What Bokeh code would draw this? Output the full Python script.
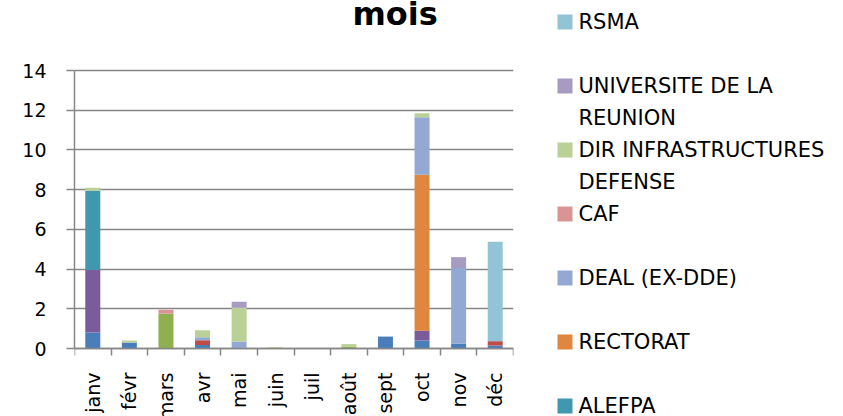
import numpy as np
from bokeh.plotting import figure
from bokeh.layouts import row
from bokeh.models import (ColumnDataSource, Range1d, FixedTicker, Label)
from bokeh.core.properties import value
from bokeh.embed import file_html
from bokeh.resources import INLINE

months = ["janv", "févr", "mars", "avr", "mai", "juin", "juil", "août", "sept", "oct", "nov", "déc"]

# series, stacked from bottom to top
serie_bleue    = [0.8, 0.3, 0.0, 0.17, 0.0, 0.0, 0.0, 0.0, 0.6, 0.4, 0.25, 0.15]
serie_rouge    = [0.0, 0.0, 0.0, 0.25, 0.0, 0.0, 0.0, 0.0, 0.0, 0.0, 0.0, 0.22]
serie_verte    = [0.0, 0.0, 1.75, 0.0, 0.0, 0.0, 0.0, 0.1, 0.0, 0.0, 0.0, 0.0]
serie_violette = [3.15, 0.0, 0.0, 0.0, 0.0, 0.0, 0.0, 0.0, 0.0, 0.5, 0.0, 0.0]
alefpa         = [4.0, 0.0, 0.0, 0.0, 0.0, 0.0, 0.0, 0.0, 0.0, 0.0, 0.0, 0.0]
rectorat       = [0.0, 0.0, 0.0, 0.0, 0.0, 0.0, 0.0, 0.0, 0.0, 7.85, 0.0, 0.0]
deal           = [0.0, 0.0, 0.0, 0.15, 0.35, 0.0, 0.0, 0.0, 0.0, 2.9, 3.8, 0.0]
caf            = [0.0, 0.0, 0.2, 0.0, 0.0, 0.0, 0.0, 0.0, 0.0, 0.0, 0.0, 0.0]
dir_infra      = [0.15, 0.1, 0.0, 0.35, 1.7, 0.07, 0.0, 0.12, 0.0, 0.2, 0.0, 0.0]
universite     = [0.0, 0.0, 0.0, 0.0, 0.3, 0.0, 0.0, 0.0, 0.0, 0.0, 0.55, 0.0]
rsma           = [0.0, 0.0, 0.0, 0.0, 0.0, 0.0, 0.0, 0.0, 0.0, 0.0, 0.0, 5.0]

series_keys = ["s_bleue", "s_rouge", "s_verte", "s_violette", "ALEFPA", "RECTORAT",
               "DEAL (EX-DDE)", "CAF", "DIR INFRASTRUCTURES DEFENSE", "UNIVERSITE DE LA REUNION", "RSMA"]
series_vals = [serie_bleue, serie_rouge, serie_verte, serie_violette, alefpa, rectorat,
               deal, caf, dir_infra, universite, rsma]
series_colors = ["#4a7ebb", "#be4b48", "#8fb04f", "#7a5c9a", "#4097ae", "#e0863e",
                 "#93a9d4", "#d99593", "#b9d097", "#a89bc2", "#93c4d5"]

legend_order = ["RSMA", "UNIVERSITE DE LA REUNION", "DIR INFRASTRUCTURES DEFENSE", "CAF",
                "DEAL (EX-DDE)", "RECTORAT", "ALEFPA"]
legend_lines = {"UNIVERSITE DE LA REUNION": ["UNIVERSITE DE LA", "REUNION"],
                "DIR INFRASTRUCTURES DEFENSE": ["DIR INFRASTRUCTURES", "DEFENSE"]}

y_ticks = [0, 2, 4, 6, 8, 10, 12, 14]
title_text = "mois"

FONT = "DejaVu Sans"
GRAY = "#868686"

# layout (pixels inside the canvases)
H = 416
W_MAIN, W_LEG = 538, 305
PLOT_TOP, PLOT_BOTTOM = 70, 348          # pixel rows of y=14 and y=0
LEFT, RIGHT_BORDER = 74, 25
scale = (PLOT_BOTTOM - PLOT_TOP) / max(y_ticks)
y_start = -(H - PLOT_BOTTOM) / scale
y_end = max(y_ticks) + PLOT_TOP / scale

data = {"x": list(np.arange(len(months)) + 0.5), "month": months}
for k, v in zip(series_keys, series_vals):
    data[k] = v
data["label_y"] = [-24 / scale] * len(months)
source = ColumnDataSource(data)

p = figure(width=W_MAIN, height=H, output_backend="svg", toolbar_location=None,
           x_range=Range1d(0, len(months)), y_range=Range1d(y_start, y_end),
           min_border_left=LEFT, min_border_top=0, min_border_bottom=0,
           min_border_right=RIGHT_BORDER)
p.outline_line_color = None
p.background_fill_color = "white"
p.border_fill_color = "white"

p.vbar_stack(series_keys, x="x", width=0.41, color=series_colors,
             line_color=None, source=source)

# y axis
p.yaxis.bounds = (0, max(y_ticks))
p.yaxis.ticker = FixedTicker(ticks=y_ticks)
p.yaxis.axis_line_color = GRAY
p.yaxis.axis_line_width = 1.5
p.yaxis.major_tick_line_color = GRAY
p.yaxis.major_tick_line_width = 1.5
p.yaxis.major_tick_out = 8
p.yaxis.major_tick_in = 0
p.yaxis.minor_tick_line_color = None
p.yaxis.major_label_text_font = FONT
p.yaxis.major_label_text_font_size = "19px"
p.yaxis.major_label_text_color = "black"
p.yaxis.major_label_standoff = 20

# x axis at y = 0, ticks between the categories
p.xaxis.fixed_location = 0
p.xaxis.ticker = FixedTicker(ticks=[], minor_ticks=list(range(len(months) + 1)))
p.xaxis.axis_line_color = GRAY
p.xaxis.axis_line_width = 1.5
p.xaxis.major_tick_line_color = None
p.xaxis.major_tick_out = 0
p.xaxis.minor_tick_line_color = GRAY
p.xaxis.minor_tick_line_width = 1.5
p.xaxis.minor_tick_out = 7
p.xaxis.minor_tick_in = 0
p.xaxis.major_label_text_font_size = "0px"

p.xgrid.grid_line_color = None
p.ygrid.ticker = FixedTicker(ticks=y_ticks)
p.ygrid.grid_line_color = GRAY
p.ygrid.grid_line_width = 1.5

# month labels, rotated, hanging below the axis
p.text(x="x", y="label_y", text="month", source=source, angle=np.pi / 2,
       text_align="right", text_baseline="middle", text_font=value(FONT),
       text_font_size="19px", text_color="black")

# title (only its last line is in view)
title = Label(x=278, y=H - 13, x_units="screen", y_units="screen", text=title_text,
              text_font=FONT, text_font_style="bold", text_font_size="32px",
              text_align="left", text_baseline="alphabetic", text_color="black")
p.add_layout(title)

# legend panel (pixel coordinates, y downwards)
SLOT, LINE = 64, 32
SQ_X, SQ_Y0, SQ = 26.5, 21.5, 15
TXT_X = 40
color_of = dict(zip(series_keys, series_colors))
sq = {"x": [], "y": [], "c": []}
tx = {"x": [], "y": [], "t": []}
for i, name in enumerate(legend_order):
    sq["x"].append(SQ_X)
    sq["y"].append(SQ_Y0 + i * SLOT)
    sq["c"].append(color_of[name])
    for j, line in enumerate(legend_lines.get(name, [name])):
        tx["x"].append(TXT_X)
        tx["y"].append(SQ_Y0 + i * SLOT + j * LINE)
        tx["t"].append(line)

lg = figure(width=W_LEG, height=H, output_backend="svg", toolbar_location=None,
            x_range=Range1d(0, W_LEG), y_range=Range1d(H, 0),
            min_border=0, min_border_left=0, min_border_right=0,
            min_border_top=0, min_border_bottom=0)
lg.axis.visible = False
lg.grid.grid_line_color = None
lg.outline_line_color = None
lg.rect(x="x", y="y", width=SQ, height=SQ, width_units="screen", height_units="screen",
        color="c", line_color=None, source=ColumnDataSource(sq))
lg.text(x="x", y="y", text="t", source=ColumnDataSource(tx), text_align="left",
        text_baseline="middle", text_font=value(FONT), text_font_size="21px",
        text_color="black")

layout = row(p, lg, spacing=0)
open("out.html", "w").write(file_html(layout, INLINE))
